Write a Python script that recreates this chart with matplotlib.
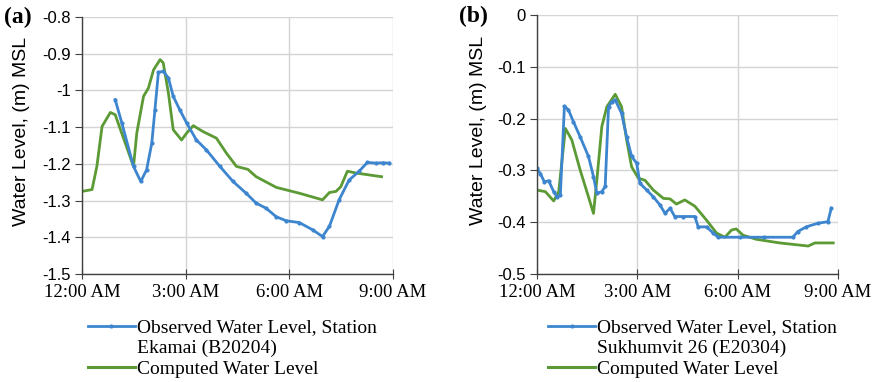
import matplotlib.pyplot as plt
from matplotlib.lines import Line2D

# hours after midnight
a_obs_t = [0.96, 1.15, 1.49, 1.70, 1.87, 2.02, 2.11, 2.21, 2.35, 2.50, 2.64, 2.83, 3.03, 3.31,
           3.60, 3.99, 4.37, 4.75, 5.04, 5.33, 5.62, 5.91, 6.29, 6.68, 6.96, 7.16, 7.44, 7.73,
           8.02, 8.26, 8.50, 8.70, 8.89]
a_obs_v = [-1.025, -1.088, -1.207, -1.248, -1.216, -1.143, -1.053, -0.951, -0.948, -0.966, -1.016,
           -1.053, -1.089, -1.135, -1.162, -1.207, -1.248, -1.280, -1.307, -1.321, -1.344, -1.355,
           -1.360, -1.380, -1.398, -1.370, -1.298, -1.244, -1.220, -1.196, -1.198, -1.197, -1.198]
a_com_t = [0.0, 0.29, 0.43, 0.58, 0.82, 0.96, 1.49, 1.585, 1.78, 1.92, 2.07, 2.26, 2.35, 2.50,
           2.64, 2.88, 3.03, 3.22, 3.50, 3.89, 4.18, 4.47, 4.80, 5.04, 5.62, 6.29, 6.96, 7.16,
           7.35, 7.49, 7.68, 7.93, 8.67]
a_com_v = [-1.275, -1.270, -1.207, -1.098, -1.060, -1.066, -1.207, -1.116, -1.016, -0.994, -0.944,
           -0.916, -0.925, -1.007, -1.107, -1.135, -1.116, -1.096, -1.112, -1.130, -1.171, -1.207,
           -1.215, -1.235, -1.264, -1.280, -1.298, -1.278, -1.275, -1.262, -1.220, -1.225, -1.235]

b_obs_t = [0.0, 0.10, 0.22, 0.35, 0.50, 0.60, 0.70, 0.82, 0.94, 1.09, 1.29, 1.54, 1.69, 1.79,
           1.94, 2.04, 2.14, 2.24, 2.34, 2.53, 2.68, 2.83, 2.98, 3.08, 3.28, 3.48, 3.68, 3.83,
           3.98, 4.12, 4.37, 4.72, 4.82, 5.07, 5.27, 5.42, 6.06, 6.80, 7.65, 7.80, 8.05, 8.40,
           8.70, 8.80]
b_obs_v = [-0.296, -0.306, -0.322, -0.320, -0.341, -0.351, -0.347, -0.176, -0.183, -0.206, -0.235,
           -0.273, -0.312, -0.344, -0.341, -0.331, -0.177, -0.167, -0.164, -0.190, -0.235, -0.273,
           -0.286, -0.325, -0.338, -0.351, -0.367, -0.383, -0.373, -0.389, -0.389, -0.389, -0.409,
           -0.409, -0.421, -0.429, -0.429, -0.429, -0.429, -0.418, -0.409, -0.402, -0.399, -0.373]
b_com_t = [0.0, 0.25, 0.50, 0.65, 0.85, 1.04, 1.29, 1.54, 1.69, 1.79, 1.94, 2.09, 2.34, 2.53,
           2.68, 2.83, 3.03, 3.23, 3.48, 3.78, 3.98, 4.17, 4.42, 4.72, 5.07, 5.37, 5.62, 5.82,
           5.96, 6.16, 6.56, 7.26, 8.11, 8.31, 8.86]
b_com_v = [-0.338, -0.341, -0.359, -0.341, -0.219, -0.241, -0.299, -0.351, -0.383, -0.319, -0.215,
           -0.177, -0.153, -0.177, -0.241, -0.293, -0.315, -0.319, -0.338, -0.354, -0.355, -0.365,
           -0.357, -0.369, -0.396, -0.421, -0.429, -0.415, -0.413, -0.425, -0.433, -0.440, -0.446,
           -0.440, -0.440]

x_ticks = [0, 3, 6, 9]
x_labels = ['12:00 AM', '3:00 AM', '6:00 AM', '9:00 AM']

BLUE = '#3d86cf'
GREEN = '#5b9a34'
SERIF = 'Liberation Serif'
SANS = 'Liberation Sans'

fig = plt.figure(figsize=(8.8, 3.82), dpi=100)
ax_a = fig.add_axes([0.0932, 0.2827, 0.3534, 0.6728])
ax_b = fig.add_axes([0.6102, 0.2827, 0.3420, 0.6780])


def style(ax, ylim, yticks, ylabels, label_x):
    ax.set_xlim(0, 9)
    ax.set_ylim(*ylim)
    ax.set_xticks(x_ticks)
    ax.set_xticklabels(x_labels, fontfamily=SERIF, fontsize=13.5)
    ax.set_yticks(yticks)
    ax.set_yticklabels(ylabels, fontfamily=SANS, fontsize=12)
    ax.grid(True, color='#d4d4d4', linewidth=1.0)
    ax.set_axisbelow(True)
    for s in ['top', 'right']:
        ax.spines[s].set_visible(False)
    for s in ['left', 'bottom']:
        ax.spines[s].set_color('#404040')
        ax.spines[s].set_linewidth(1.0)
    ax.tick_params(axis='x', direction='inout', length=7, color='#404040', pad=4)
    ax.tick_params(axis='y', direction='out', length=5, color='#404040', pad=3)
    ax.set_ylabel('Water Level, (m) MSL', fontfamily=SANS, fontsize=14)
    ax.yaxis.set_label_coords(label_x, 0.556)


def add_legend(station, x0):
    handles = [Line2D([], [], color=BLUE, lw=2, marker='o', ms=2),
               Line2D([], [], color='none'),
               Line2D([], [], color=GREEN, lw=2.2)]
    labels = ['Observed Water Level, Station', station, 'Computed Water Level']
    fig.legend(handles, labels, loc='upper left', bbox_to_anchor=(x0, 0.165),
               frameon=False, handlelength=2.4, handletextpad=0.1, labelspacing=0.15,
               borderpad=0, borderaxespad=0, prop={'family': SERIF, 'size': 14})


ax_a.plot(a_com_t, a_com_v, color=GREEN, lw=2)
ax_a.plot(a_obs_t, a_obs_v, color=BLUE, lw=2, marker='o', ms=2)
style(ax_a, (-1.5, -0.8), [-1.5, -1.4, -1.3, -1.2, -1.1, -1.0, -0.9, -0.8],
      ['-1.5', '-1.4', '-1.3', '-1.2', '-1.1', '-1', '-0.9', '-0.8'], -0.167)

ax_b.plot(b_com_t, b_com_v, color=GREEN, lw=2)
ax_b.plot(b_obs_t, b_obs_v, color=BLUE, lw=2, marker='o', ms=2)
style(ax_b, (-0.5, 0.0), [-0.5, -0.4, -0.3, -0.2, -0.1, 0.0],
      ['-0.5', '-0.4', '-0.3', '-0.2', '-0.1', '0'], -0.166)

add_legend('Ekamai (B20204)', 0.1)
add_legend('Sukhumvit 26 (E20304)', 0.623)

fig.text(0.005, 0.955, '(a)', fontfamily=SERIF, fontweight='bold', fontsize=17, va='center')
fig.text(0.522, 0.958, '(b)', fontfamily=SERIF, fontweight='bold', fontsize=17, va='center')

fig.savefig('out.png', dpi=100)
